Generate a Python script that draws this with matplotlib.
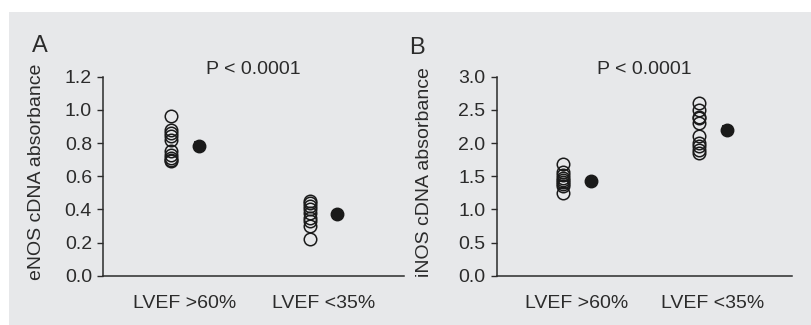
import matplotlib
matplotlib.use("Agg")
import matplotlib.pyplot as plt
from matplotlib.patches import Rectangle
import matplotlib.transforms as mtransforms
import numpy as np

plt.rcParams['font.family'] = ['Liberation Sans', 'DejaVu Sans']

groups = ["LVEF >60%", "LVEF <35%"]

enos_g1 = [0.96, 0.88, 0.86, 0.84, 0.82, 0.75, 0.73, 0.71, 0.70, 0.69]
enos_g2 = [0.45, 0.44, 0.42, 0.40, 0.38, 0.35, 0.33, 0.30, 0.22]
enos_mean = [0.78, 0.37]
enos_err = [0.025, 0.02]

inos_g1 = [1.68, 1.57, 1.52, 1.48, 1.45, 1.42, 1.38, 1.35, 1.25]
inos_g2 = [2.60, 2.50, 2.40, 2.38, 2.30, 2.10, 2.00, 1.95, 1.90, 1.85]
inos_mean = [1.43, 2.19]
inos_err = [0.03, 0.06]

TXT = '#2b2b2b'
BG = '#e7e8ea'

fig = plt.figure(figsize=(8.12, 3.25), dpi=100)
fig.patch.set_facecolor('white')
fig.patches.append(Rectangle((9/812, 0), 1, 1 - 12/325, transform=fig.transFigure,
                             facecolor=BG, edgecolor='none', zorder=-10))

def panel(rect, g1, g2, means, errs, ylim, yticks, ylabel, letter, letter_xy, ylabel_x):
    ax = fig.add_axes(rect)
    ax.set_facecolor('none')
    for i, vals in enumerate([g1, g2]):
        x = np.full(len(vals), i + 1 - 0.1)
        ax.plot(x, vals, linestyle='none', marker='o', markersize=9,
                markerfacecolor='none', markeredgecolor='#1a1a1a', markeredgewidth=1.1,
                clip_on=False)
    xm = np.arange(1, 3) + 0.1
    ax.errorbar(xm, means, yerr=errs, fmt='o', markersize=9, color='#1a1a1a',
                ecolor='#1a1a1a', elinewidth=1.2, capsize=3.5, capthick=1.2, clip_on=False)
    ax.set_xlim(0.41, 2.58)
    ax.set_ylim(*ylim)
    ax.set_yticks(yticks)
    ax.set_yticklabels([f"{t:.1f}" for t in yticks])
    ax.set_xticks([1, 2])
    ax.set_xticklabels(groups)
    for s in ['top', 'right']:
        ax.spines[s].set_visible(False)
    for s in ['left', 'bottom']:
        ax.spines[s].set_color(TXT)
        ax.spines[s].set_linewidth(1.1)
    ax.tick_params(axis='y', direction='out', length=4, width=1, colors=TXT,
                   labelsize=14, pad=4, labelcolor=TXT)
    ax.tick_params(axis='x', length=0, labelsize=14, pad=14, labelcolor=TXT)
    ax.set_ylabel(ylabel, fontsize=14, color=TXT)
    ax.yaxis.set_label_coords(ylabel_x, 0.47, transform=fig.transFigure)
    off = mtransforms.offset_copy(ax.transAxes, fig=fig, x=0, y=3, units='dots')
    ax.text(0.5, 1.0, "P < 0.0001", transform=off, ha='center', va='baseline',
            fontsize=14, color=TXT)
    fig.text(letter_xy[0], letter_xy[1], letter, ha='center', va='center',
             fontsize=17, color=TXT)
    return ax

bottom = 1 - 275.7/325
height = (275.7 - 76.7)/325

panel([103/812, bottom, (404-103)/812, height], enos_g1, enos_g2, enos_mean, enos_err,
      (0, 1.2), [0.0, 0.2, 0.4, 0.6, 0.8, 1.0, 1.2], "eNOS cDNA absorbance", "A",
      (40/812, 1 - 46/325), 45/812)
panel([496.7/812, bottom, (792-496.7)/812, height], inos_g1, inos_g2, inos_mean, inos_err,
      (0, 3.0), [0.0, 0.5, 1.0, 1.5, 2.0, 2.5, 3.0], "iNOS cDNA absorbance", "B",
      (417/812, 1 - 48/325), 433/812)

fig.savefig("out.png", dpi=100, facecolor=fig.get_facecolor())
